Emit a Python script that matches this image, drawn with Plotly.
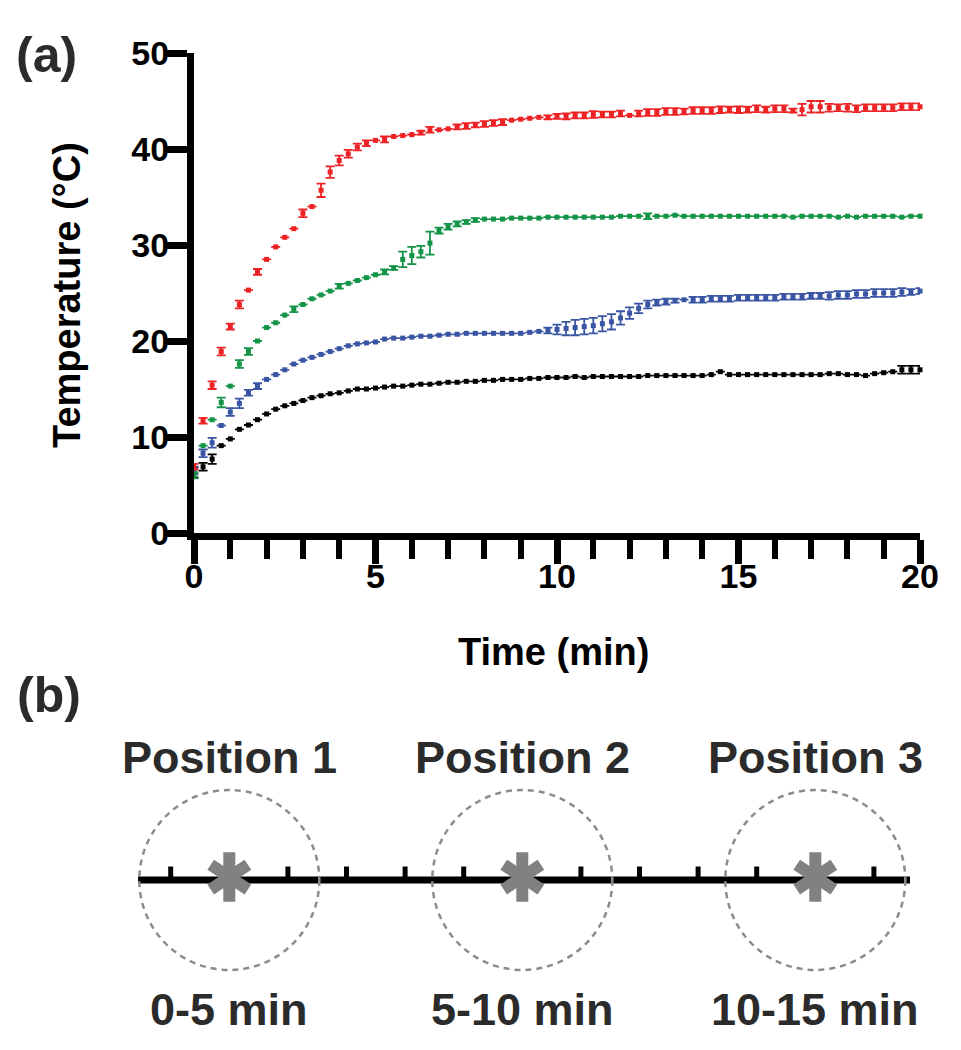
import plotly.graph_objects as go

# ---------------- data (panel a) ----------------
time_min = [i * 0.25 for i in range(81)]

red = [6.9, 11.7, 15.4, 18.9, 21.5, 23.8, 25.3, 27.2, 28.5, 29.8, 30.8, 31.7, 33.3, 34.0, 35.7, 37.6,
       38.8, 39.5, 40.2, 40.6, 40.9, 41.0, 41.3, 41.4, 41.5, 41.7, 42.0, 42.0, 42.1, 42.3, 42.4, 42.5,
       42.6, 42.7, 42.8, 43.0, 43.1, 43.2, 43.3, 43.3, 43.4, 43.4, 43.5, 43.5, 43.6, 43.6, 43.6, 43.7,
       43.5, 43.7, 43.8, 43.8, 43.9, 43.9, 43.9, 44.0, 44.0, 44.0, 44.1, 44.1, 44.1, 44.1, 44.2, 44.1,
       44.2, 44.2, 44.0, 44.1, 44.4, 44.4, 44.3, 44.3, 44.3, 44.2, 44.3, 44.3, 44.3, 44.3, 44.4, 44.4, 44.4]
red_err = [0.3, 0.3, 0.4, 0.4, 0.3, 0.4, 0, 0.3, 0, 0, 0, 0, 0.4, 0, 0.7, 0.6,
           0.5, 0.4, 0.35, 0.3, 0, 0.3, 0, 0, 0, 0.2, 0.3, 0, 0, 0.25, 0.3, 0.25,
           0.3, 0.3, 0.3, 0, 0, 0, 0, 0.2, 0.25, 0.3, 0.3, 0.3, 0.35, 0.3, 0.3, 0.3,
           0, 0.3, 0.35, 0.35, 0.35, 0.35, 0.3, 0.35, 0.35, 0.35, 0.35, 0.3, 0.35, 0.3, 0.35, 0.3,
           0.35, 0.35, 0.2, 0.6, 0.6, 0.6, 0.4, 0.35, 0.4, 0.35, 0.35, 0.35, 0.35, 0.35, 0.35, 0.35, 0.35]

green = [6.0, 9.1, 11.8, 13.6, 15.3, 17.6, 18.9, 20.0, 21.4, 21.9, 22.7, 23.3, 23.8, 24.4, 24.8, 25.2,
         25.7, 26.0, 26.3, 26.6, 26.9, 27.2, 27.6, 28.5, 28.9, 29.3, 30.2, 31.5, 31.9, 32.2, 32.4, 32.6,
         32.7, 32.7, 32.7, 32.8, 32.8, 32.8, 32.8, 32.9, 32.9, 32.9, 32.9, 32.9, 32.9, 32.9, 32.9, 33.0,
         33.0, 33.0, 33.0, 33.0, 33.0, 33.1, 33.0, 33.0, 33.0, 33.0, 33.0, 33.0, 33.0, 33.0, 33.0, 33.0,
         33.0, 33.0, 32.9, 33.0, 33.0, 33.0, 33.0, 32.9, 33.0, 32.9, 33.0, 33.0, 33.0, 33.0, 32.9, 33.0, 33.0]
green_err = [0.3, 0, 0, 0.5, 0, 0.4, 0.35, 0, 0, 0, 0, 0.3, 0, 0, 0, 0,
             0.25, 0, 0, 0, 0, 0.25, 0.2, 0.8, 0.9, 0.6, 1.2, 0.3, 0.3, 0.25, 0.2, 0.2,
             0, 0, 0, 0, 0, 0, 0, 0, 0, 0, 0, 0, 0, 0, 0, 0,
             0, 0, 0.3, 0, 0, 0, 0, 0, 0, 0, 0, 0, 0, 0, 0, 0,
             0, 0, 0, 0, 0, 0, 0, 0, 0, 0, 0, 0, 0, 0, 0, 0, 0]

blue = [6.5, 8.3, 9.4, 11.2, 12.6, 13.5, 14.6, 15.3, 16.0, 16.5, 17.0, 17.6, 18.0, 18.3, 18.6, 18.9,
        19.2, 19.5, 19.7, 19.8, 19.9, 20.2, 20.3, 20.3, 20.4, 20.5, 20.5, 20.6, 20.7, 20.7, 20.8, 20.8,
        20.8, 20.8, 20.8, 20.8, 20.8, 20.9, 21.0, 21.1, 21.2, 21.3, 21.4, 21.5, 21.6, 21.8, 22.0, 22.4,
        22.9, 23.4, 23.8, 24.0, 24.1, 24.2, 24.3, 24.3, 24.3, 24.4, 24.4, 24.4, 24.5, 24.5, 24.5, 24.5,
        24.5, 24.6, 24.6, 24.6, 24.7, 24.7, 24.7, 24.8, 24.8, 24.9, 24.9, 25.0, 25.0, 25.0, 25.1, 25.1, 25.2]
blue_err = [0.4, 0.4, 0.5, 0, 0.4, 0.5, 0.3, 0.3, 0, 0, 0, 0, 0, 0, 0, 0,
            0, 0, 0, 0, 0, 0, 0, 0, 0, 0, 0, 0, 0, 0, 0, 0,
            0, 0, 0, 0, 0, 0, 0, 0.3, 0.5, 0.7, 0.8, 0.8, 0.8, 0.8, 0.8, 0.7,
            0.6, 0.5, 0.4, 0.3, 0.3, 0.2, 0, 0.3, 0.3, 0.3, 0.3, 0.3, 0.3, 0.3, 0.3, 0.3,
            0.3, 0.3, 0.3, 0.3, 0.3, 0.3, 0.4, 0.4, 0.4, 0.4, 0.4, 0.4, 0.4, 0.4, 0.4, 0.3, 0.3]

black = [6.3, 6.9, 7.7, 9.1, 9.8, 10.8, 11.25, 11.8, 12.4, 12.9, 13.25, 13.5, 13.8, 14.1, 14.3, 14.5,
         14.6, 14.8, 15.0, 15.0, 15.1, 15.2, 15.3, 15.3, 15.4, 15.5, 15.5, 15.6, 15.7, 15.7, 15.8, 15.8,
         15.9, 15.9, 16.0, 16.0, 16.0, 16.1, 16.1, 16.2, 16.2, 16.2, 16.3, 16.2, 16.3, 16.3, 16.3, 16.3,
         16.3, 16.3, 16.4, 16.4, 16.4, 16.4, 16.4, 16.4, 16.4, 16.5, 16.8, 16.5, 16.5, 16.5, 16.5, 16.5,
         16.5, 16.5, 16.5, 16.5, 16.5, 16.5, 16.6, 16.6, 16.5, 16.5, 16.4, 16.6, 16.7, 16.8, 17.0, 17.0, 17.0]
black_err = [0.5, 0.4, 0.5] + [0] * 75 + [0.4, 0.4, 0.4]

x_ticks = [0, 5, 10, 15, 20]
y_ticks = [0, 10, 20, 30, 40, 50]

# ---------------- data (panel b) ----------------
position_labels = ["Position 1", "Position 2", "Position 3"]
period_labels = ["0-5 min", "5-10 min", "10-15 min"]
position_u = [2, 7, 12]           # ruler units
ruler_ticks_u = list(range(1, 14))

# ---------------- layout helpers (page pixel -> paper fraction) ----------------
OFF = 8                      # default page body margin
W, H = 961 - 2 * OFF, 1050 - 2 * OFF
def fx(p):
    return (p - OFF) / W
def fy(p):
    return 1 - (p - OFF) / H

RED, GREEN, BLUE, BLACK = "#ec2224", "#139447", "#3a54a4", "#000000"
FONT = "Liberation Sans, Arial, sans-serif"
TXT = "#2b2b2b"

def bars(e):
    return [v if v > 0 else None for v in e]

fig = go.Figure()
for y, e, c in [(black, black_err, BLACK), (blue, blue_err, BLUE),
                (green, green_err, GREEN), (red, red_err, RED)]:
    fig.add_trace(go.Scatter(
        x=time_min, y=y, mode="markers",
        marker=dict(symbol="square", size=5, color=c, line=dict(width=0)),
        error_y=dict(type="data", array=bars(e), visible=True, color=c, thickness=1.8, width=4.5),
        cliponaxis=False, showlegend=False, xaxis="x", yaxis="y"))

# ---- panel b coordinate system: ruler units, 58.6 px per unit ----
U = 58.6
def u_of(page_x):
    return 1 + (page_x - 170.7) / U
def v_of(page_y):
    return (880 - page_y) / U

for sym in ["y-up-open", "y-down-open"]:
    fig.add_trace(go.Scatter(
        x=position_u, y=[0.05] * len(position_u), mode="markers",
        marker=dict(symbol=sym, size=31, color="#818181",
                    line=dict(width=12, color="#818181")),
        showlegend=False, xaxis="x2", yaxis="y2", hoverinfo="skip", cliponaxis=False))

shapes = []
shapes.append(dict(type="line", xref="x2", yref="y2", x0=u_of(138), x1=u_of(910),
                   y0=0, y1=0, line=dict(color="black", width=7), layer="below"))
for u in ruler_ticks_u:
    shapes.append(dict(type="line", xref="x2", yref="y2", x0=u, x1=u, y0=0, y1=0.23,
                       line=dict(color="black", width=5), layer="below"))
R = 90 / U
for u in position_u:
    shapes.append(dict(type="circle", xref="x2", yref="y2", x0=u - R, x1=u + R, y0=-R, y1=R,
                       line=dict(color="#8c8c8c", width=2.5, dash="6px,5px")))

annotations = []
for u, lab in zip(position_u, position_labels):
    annotations.append(dict(x=u, y=v_of(757), xref="x2", yref="y2", text=lab,
                            showarrow=False, xanchor="center", yanchor="middle",
                            font=dict(family=FONT, size=45, color=TXT, weight="bold")))
for u, lab in zip(position_u, period_labels):
    annotations.append(dict(x=u, y=v_of(1009), xref="x2", yref="y2", text=lab,
                            showarrow=False, xanchor="center", yanchor="middle",
                            font=dict(family=FONT, size=45, color=TXT, weight="bold")))

annotations.append(dict(x=fx(46), y=fy(55), xref="paper", yref="paper", text="(a)",
                        showarrow=False, xanchor="center", yanchor="middle",
                        font=dict(family=FONT, size=50, color=TXT, weight="bold")))
annotations.append(dict(x=fx(49), y=fy(695), xref="paper", yref="paper", text="(b)",
                        showarrow=False, xanchor="center", yanchor="middle",
                        font=dict(family=FONT, size=50, color=TXT, weight="bold")))
annotations.append(dict(x=fx(553), y=fy(652), xref="paper", yref="paper", text="Time (min)",
                        showarrow=False, xanchor="center", yanchor="middle",
                        font=dict(family=FONT, size=38, color="black", weight="bold")))
annotations.append(dict(x=fx(67), y=fy(295), xref="paper", yref="paper", text="Temperature (°C)",
                        showarrow=False, xanchor="center", yanchor="middle", textangle=-90,
                        font=dict(family=FONT, size=38, color="black", weight="bold")))

fig.update_layout(
    template="none",
    width=W, height=H, autosize=False,
    margin=dict(l=0, r=0, t=0, b=0, pad=0, autoexpand=False),
    paper_bgcolor="white", plot_bgcolor="rgba(0,0,0,0)",
    showlegend=False,
    xaxis=dict(domain=[fx(194), fx(920)], range=[0, 20], anchor="y", automargin=False,
               showline=True, linewidth=7, linecolor="black", mirror=False,
               ticks="outside", ticklen=24, tickwidth=7, tickcolor="black",
               tickvals=x_ticks, ticktext=[str(v) for v in x_ticks], ticklabelstandoff=-17,
               minor=dict(dtick=1, ticks="outside", ticklen=19, tickwidth=6, tickcolor="black"),
               showgrid=False, zeroline=False,
               tickfont=dict(family=FONT, size=34, color="black", weight="bold")),
    yaxis=dict(domain=[fy(533), fy(53)], range=[0, 50], anchor="x", automargin=False,
               showline=True, linewidth=7, linecolor="black",
               ticks="outside", ticklen=22, tickwidth=7, tickcolor="black",
               tickvals=y_ticks, ticktext=[str(v) for v in y_ticks], ticklabelstandoff=-11,
               showgrid=False, zeroline=False,
               tickfont=dict(family=FONT, size=34, color="black", weight="bold")),
    xaxis2=dict(domain=[0, 1], range=[u_of(OFF), u_of(OFF + W)], anchor="y2", visible=False,
                automargin=False, showgrid=False, zeroline=False),
    yaxis2=dict(domain=[0, 1], range=[v_of(OFF + H), v_of(OFF)], anchor="x2", visible=False,
                automargin=False, showgrid=False, zeroline=False),
    shapes=shapes,
    annotations=annotations,
)

fig.write_html("out.html")
